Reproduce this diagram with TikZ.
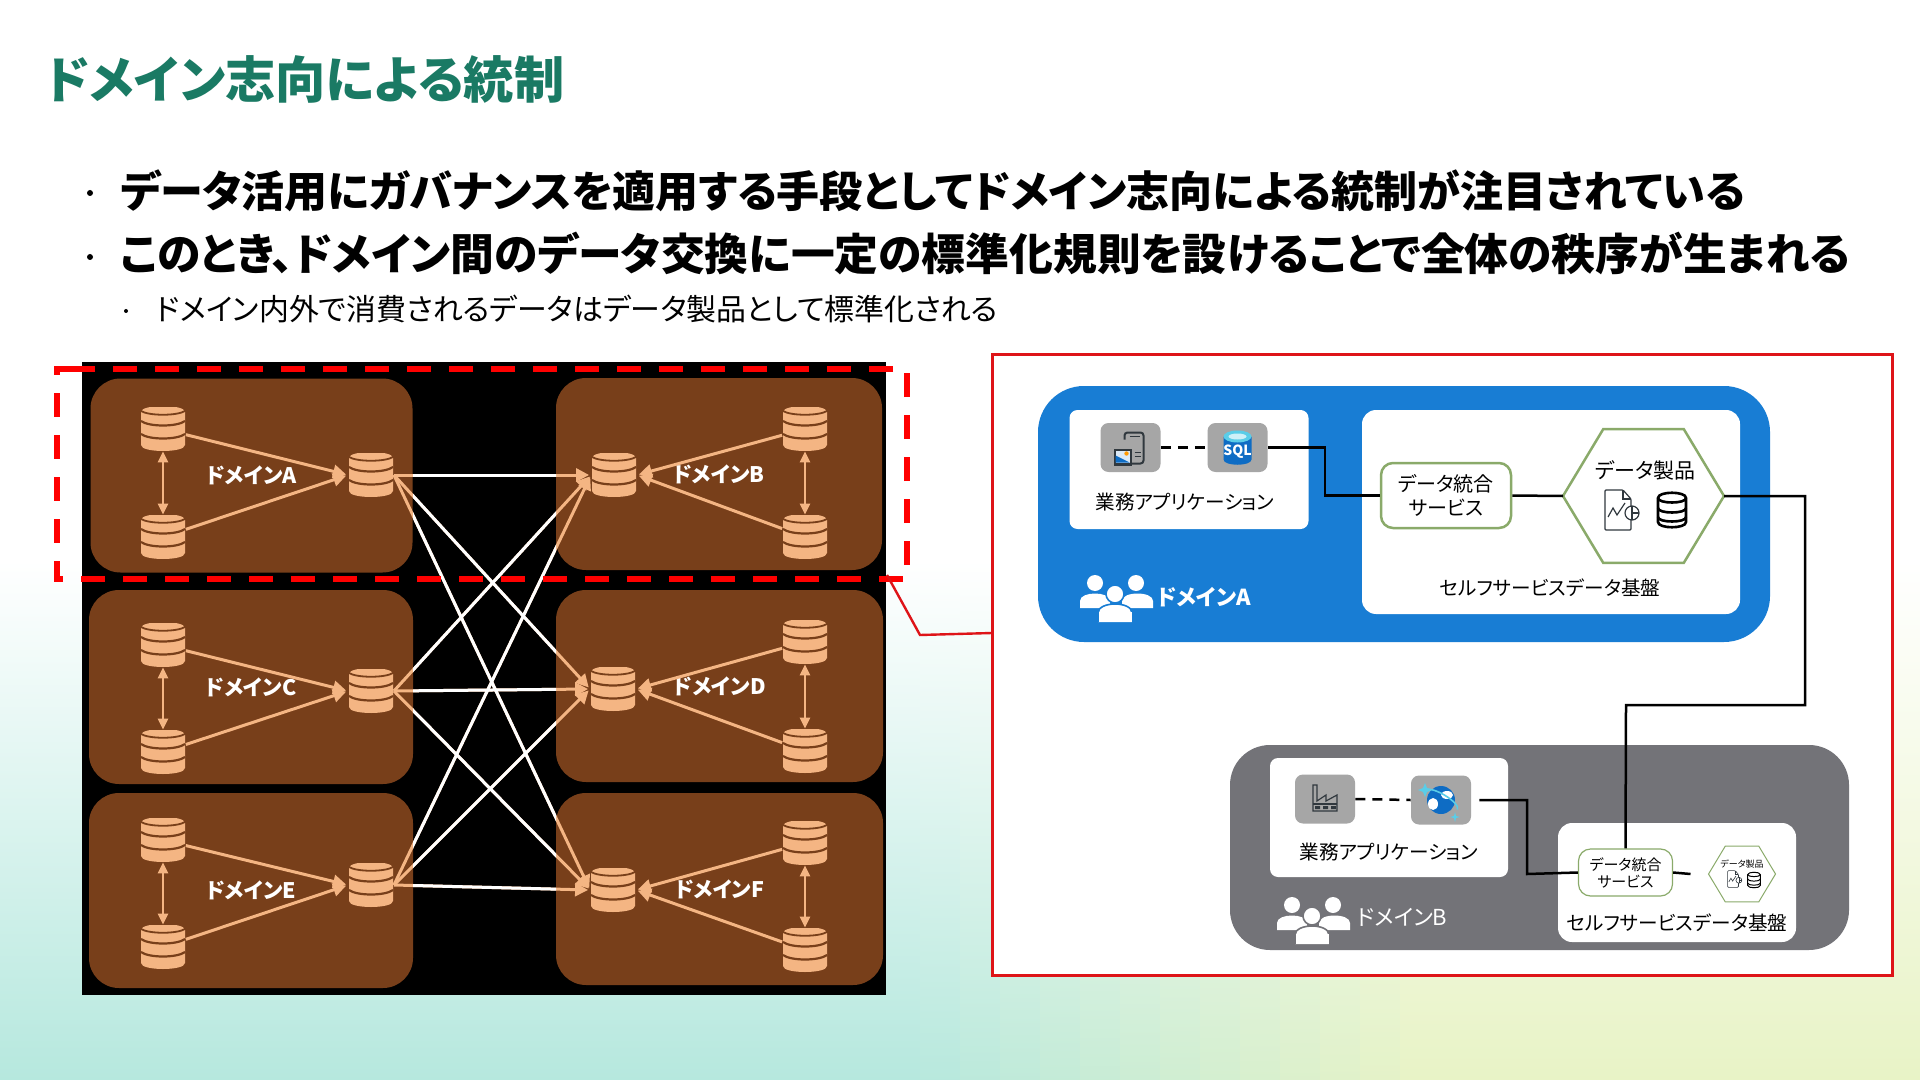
\documentclass[tikz,border=0pt]{standalone}
\usepackage{fontspec}
\setmainfont[RawFeature=+palt]{Noto Sans CJK JP}
\usetikzlibrary{arrows.meta,positioning,shapes.geometric}
\definecolor{titlegreen}{RGB}{ 26,122,100}
\definecolor{alertred}  {RGB}{255,  0,  0}
\definecolor{framered}  {RGB}{222, 20, 24}
\definecolor{meshbrown} {RGB}{120, 63, 26}
\definecolor{meshpeach} {RGB}{244,181,131}
\definecolor{domblue}   {RGB}{ 24,125,212}
\definecolor{domgrey}   {RGB}{115,115,120}
\definecolor{tilegrey}  {RGB}{166,166,166}
\definecolor{svcgreen}  {RGB}{138,170,106}
\definecolor{icondark}  {RGB}{ 48, 56, 62}
\definecolor{sqlblue}   {RGB}{ 14,108,196}
\definecolor{sqlcyan}   {RGB}{ 90,205,232}
\definecolor{bgteal}    {RGB}{182,232,222}
\definecolor{bglime}    {RGB}{232,243,198}

\begin{document}
\begin{tikzpicture}[
    x=0.5pt, y=-0.5pt,
    headline/.style={anchor=west, inner sep=0pt, text=titlegreen, font=\bfseries\fontsize{25.1pt}{30pt}\selectfont},
    bullet/.style={anchor=west, inner sep=0pt, font=\bfseries\fontsize{21.5pt}{25pt}\selectfont},
    subbullet/.style={anchor=west, inner sep=0pt, font=\fontsize{14.95pt}{18pt}\selectfont},
    bulletdot/.style={circle, fill=black, inner sep=0pt, minimum size=3pt},
    domainbox/.style={fill=meshbrown, rounded corners=15pt, text=white, font=\bfseries\fontsize{10.7pt}{14pt}\selectfont},
    dbicon/.style={inner sep=0pt, minimum width=22.5pt, minimum height=22pt, path picture={
        \begin{scope}[shift={(path picture bounding box.center)}]
            \fill[meshpeach] (-22,-17) .. controls (-22,-25) and (22,-25) .. (22,-17) -- (22,16) .. controls (22,24) and (-22,24) .. (-22,16) -- cycle;
            \draw[meshbrown, line width=0.9pt] (-22,-18) .. controls (-14,-13) and (14,-13) .. (22,-18);
            \draw[meshbrown, line width=1.1pt] (-22,-8) .. controls (-14,-2) and (14,-2) .. (22,-8);
            \draw[meshbrown, line width=1.1pt] (-22,5) .. controls (-14,11) and (14,11) .. (22,5);
        \end{scope}}},
    flow/.style={draw=meshpeach, line width=1.5pt, shorten >=1pt, -{Triangle[length=6.5pt,width=6.5pt]}},
    biflow/.style={draw=meshpeach, line width=1.2pt, {Triangle[length=5.5pt,width=5pt]}-{Triangle[length=5.5pt,width=5pt]}},
    xlink/.style={draw=white, line width=1.5pt},
    appbox/.style={fill=white, rounded corners=4pt},
    platbox/.style={fill=white, rounded corners=7pt},
    tile/.style={fill=tilegrey, rounded corners=4pt, minimum width=30pt, minimum height=24.5pt, inner sep=0pt},
    plain/.style={inner sep=0pt, font=\fontsize{9.8pt}{12pt}\selectfont},
    dombig/.style={inner sep=0pt, anchor=west, text=white, font=\bfseries\fontsize{11pt}{13pt}\selectfont},
    svcbox/.style={draw=svcgreen, fill=white, rounded corners=6pt, align=center, inner sep=0pt},
    hexshape/.style={draw=svcgreen, fill=white, regular polygon, regular polygon sides=6, inner sep=0pt, outer sep=0pt, yscale=0.96, transform shape},
    wire/.style={draw=black, line width=1.25pt},
    dashwire/.style={wire, dash pattern=on 5pt off 3.5pt},
    pics/appicon/.style={code={
        \draw[icondark, line width=1pt, rounded corners=1.5pt] (-6,-8) -- (-6,-15) -- (13,-15) -- (13,16) -- (1,16);
        \draw[icondark, line width=0.6pt] (-1,-11) -- (9,-11) (4,5) -- (10,5) (4,9) -- (10,9);
        \fill[icondark] (-17,1) rectangle (1,18);
        \fill[white!85!sqlblue] (-15,3) rectangle (-1,15);
        \fill[sqlblue] (-15,15) -- (-15,8) -- (-9,11) -- (-1,15) -- cycle;
        \fill[orange!80!yellow] (-4,6) circle (2.2);}},
    pics/sqlicon/.style={code={
        \fill[sqlblue] (-14,-11) -- (-14,12) .. controls (-14,19) and (14,19) .. (14,12) -- (14,-11) -- cycle;
        \fill[sqlcyan] (0,-11) ellipse (14 and 6);
        \fill[white!70!sqlcyan] (0,-11) ellipse (9 and 3);
        \node[text=white, inner sep=0pt, font=\bfseries\fontsize{7pt}{8pt}\selectfont] at (0,4) {SQL};}},
    pics/factoryicon/.style={code={
        \draw[icondark, line width=0.6pt, fill=tilegrey] (-12,12) -- (-12,-14) -- (-8,-14) -- (-8,2) -- (1,-4) -- (1,2) -- (12,-4) -- (12,12) -- cycle;
        \draw[icondark, line width=0.6pt] (-12,5) -- (12,5);
        \fill[icondark] (-10,7) rectangle (-5,10) (-2,7) rectangle (3,10) (6,7) rectangle (11,10);}},
    pics/cosmosicon/.style={code={
        \fill[sqlblue] (0,0) circle (14);
        \fill[white] (-8,4) ellipse (5 and 6) (6,-5) ellipse (6 and 4);
        \draw[sqlcyan, line width=0.8pt, rotate=-30] (-19,0) arc[start angle=180, end angle=360, x radius=19, y radius=6];
        \fill[sqlcyan] (-16,-17) -- (-14,-12) -- (-9,-10) -- (-14,-8) -- (-16,-3) -- (-18,-8) -- (-23,-10) -- (-18,-12) -- cycle;
        \fill[sqlcyan] (14,12) -- (15,16) -- (19,17) -- (15,18) -- (14,22) -- (13,18) -- (9,17) -- (13,16) -- cycle;}},
    pics/docicon/.style={code={
        \draw[icondark, pic actions, rounded corners=0.5pt] (-13,-20) -- (5,-20) -- (13,-11) -- (13,20) -- (-13,20) -- cycle;
        \draw[icondark, pic actions] (5,-20) -- (5,-11) -- (13,-11);
        \draw[icondark, pic actions] (-10,7) -- (-5,-2) -- (-1,5) -- (7,-7);
        \draw[icondark, pic actions, fill=white] (14,3) circle (7);
        \draw[icondark, pic actions] (14,-4) -- (14,10) (14,3) -- (21,3);}},
    pics/dbline/.style={code={
        \draw[black, pic actions, fill=white] (-14,-12) .. controls (-14,-19) and (14,-19) .. (14,-12) -- (14,12) .. controls (14,19) and (-14,19) .. (-14,12) -- cycle;
        \draw[black, pic actions] (-14,-12) .. controls (-14,-6) and (14,-6) .. (14,-12);
        \draw[black, pic actions] (-14,-2) .. controls (-14,4) and (14,4) .. (14,-2);
        \draw[black, pic actions] (-14,7) .. controls (-14,13) and (14,13) .. (14,7);}},
    pics/peopleicon/.style={code={
        \fill[white] (-21,-15) circle (8) (20,-15) circle (8);
        \fill[white] (-36,10) -- (-36,3) .. controls (-36,-7) and (-6,-7) .. (-6,3) -- (-6,10) -- cycle;
        \fill[white] (6,10) -- (6,3) .. controls (6,-7) and (37,-7) .. (37,3) -- (37,10) -- cycle;
        \draw[#1, fill=white, line width=0.8pt] (-1,-4) circle (9);
        \draw[#1, fill=white, line width=0.8pt] (-18,24) -- (-18,15) .. controls (-18,3) and (16,3) .. (16,15) -- (16,24);
        \fill[white] (-17.5,24) rectangle (15.5,14);}}
]
    \useasboundingbox (0,0) rectangle (1920,1080);
    % background, white above, teal to lime along the bottom
    \fill[white] (0,0) rectangle (1920,1080);
    \foreach \k in {0,...,48} {
        \pgfmathsetmacro{\xa}{40*\k}
        \pgfmathsetmacro{\mixp}{min(100,max(0,(\xa-900)/5))}
        \colorlet{stripc}{bglime!\mixp!bgteal}
        \fill[top color=white, bottom color=stripc, draw=none] (\xa,560) rectangle (\xa+41,1080);
    }

    % heading and bullets
    \node[headline] (title) at (45,79) {ドメイン志向による統制};
    \node[bulletdot] (dotone) at (90,193) {};
    \node[bullet] (lineone) at (120,191) {データ活用にガバナンスを適用する手段としてドメイン志向による統制が注目されている};
    \node[bulletdot] (dottwo) at (90,257) {};
    \node[bullet, font=\bfseries\fontsize{21.9pt}{25pt}\selectfont] (linetwo) at (120,254) {このとき、ドメイン間のデータ交換に一定の標準化規則を設けることで全体の秩序が生まれる};
    \node[bulletdot, minimum size=2pt] (dotsub) at (126,311) {};
    \node[subbullet] (linesub) at (156,309) {ドメイン内外で消費されるデータはデータ製品として標準化される};

    % left: mesh of domains
    \node[fill=black, minimum width=402pt, minimum height=316pt, inner sep=0pt] (mesh) at (484,678.5) {};
    \node[domainbox, minimum width=161pt, minimum height=97pt] (domA) at (251.5,475.5) {ドメインA};
    \node[domainbox, minimum width=163pt, minimum height=96pt] (domB) at (719,474) {ドメインB};
    \node[domainbox, minimum width=162pt, minimum height=97pt] (domC) at (251,687) {ドメインC};
    \node[domainbox, minimum width=163.5pt, minimum height=96pt] (domD) at (719.5,686) {ドメインD};
    \node[domainbox, minimum width=162pt, minimum height=97.5pt] (domE) at (251,890.5) {ドメインE};
    \node[domainbox, minimum width=163.5pt, minimum height=96pt] (domF) at (719.5,889) {ドメインF};

    \node[dbicon] (dbAtop) at (163,429) {};
    \node[dbicon] (dbAbot) at (163,537) {};
    \node[dbicon] (hubA) at (371,475) {};
    \node[dbicon] (dbBtop) at (805,429) {};
    \node[dbicon] (dbBbot) at (805,537) {};
    \node[dbicon] (hubB) at (614,475) {};
    \node[dbicon] (dbCtop) at (163,645) {};
    \node[dbicon] (dbCbot) at (163,752) {};
    \node[dbicon] (hubC) at (371,691) {};
    \node[dbicon] (dbDtop) at (805,642) {};
    \node[dbicon] (dbDbot) at (805,751) {};
    \node[dbicon] (hubD) at (613,689) {};
    \node[dbicon] (dbEtop) at (163,840) {};
    \node[dbicon] (dbEbot) at (163,947) {};
    \node[dbicon] (hubE) at (371,885) {};
    \node[dbicon] (dbFtop) at (805,843) {};
    \node[dbicon] (dbFbot) at (805,950) {};
    \node[dbicon] (hubF) at (613,890) {};

    \draw[flow] (dbAtop) -- (hubA.west);
    \draw[flow] (dbAbot) -- (hubA.west);
    \draw[biflow] (dbAtop) -- (dbAbot);
    \draw[flow] (dbBtop) -- (hubB.east);
    \draw[flow] (dbBbot) -- (hubB.east);
    \draw[biflow] (dbBtop) -- (dbBbot);
    \draw[flow] (dbCtop) -- (hubC.west);
    \draw[flow] (dbCbot) -- (hubC.west);
    \draw[biflow] (dbCtop) -- (dbCbot);
    \draw[flow] (dbDtop) -- (hubD.east);
    \draw[flow] (dbDbot) -- (hubD.east);
    \draw[biflow] (dbDtop) -- (dbDbot);
    \draw[flow] (dbEtop) -- (hubE.west);
    \draw[flow] (dbEbot) -- (hubE.west);
    \draw[biflow] (dbEtop) -- (dbEbot);
    \draw[flow] (dbFtop) -- (hubF.east);
    \draw[flow] (dbFbot) -- (hubF.east);
    \draw[biflow] (dbFtop) -- (dbFbot);

    % links between hubs, peach over the boxes
    \draw[flow] (hubA.east) -- (hubB.west);
    \draw[flow] (hubA.east) -- (hubD.west);
    \draw[flow] (hubA.east) -- (hubF.west);
    \draw[flow] (hubC.east) -- (hubB.west);
    \draw[flow] (hubC.east) -- (hubD.west);
    \draw[flow] (hubC.east) -- (hubF.west);
    \draw[flow] (hubE.east) -- (hubB.west);
    \draw[flow] (hubE.east) -- (hubD.west);
    \draw[flow] (hubE.east) -- (hubF.west);
    % white where they cross the black gap
    \begin{scope}
        \clip (413,363) rectangle (556,994);
        \draw[xlink] (hubA.east) -- (hubB.west);
        \draw[xlink] (hubA.east) -- (hubD.west);
        \draw[xlink] (hubA.east) -- (hubF.west);
        \draw[xlink] (hubC.east) -- (hubB.west);
        \draw[xlink] (hubC.east) -- (hubD.west);
        \draw[xlink] (hubC.east) -- (hubF.west);
        \draw[xlink] (hubE.east) -- (hubB.west);
        \draw[xlink] (hubE.east) -- (hubD.west);
        \draw[xlink] (hubE.east) -- (hubF.west);
    \end{scope}
    \draw[draw=alertred, line width=2.7pt, dash pattern=on 12pt off 9pt] (75,369) -- (57,369) -- (57,579) -- (907,579) -- (907,369) -- (75,369);

    % right: zoomed panel
    \node[draw=framered, fill=white, line width=1.5pt, minimum width=450pt, minimum height=310pt, inner sep=0pt] (panel) at (1442,665) {};
    \coordinate (leadstart) at (887,575);
    \coordinate (leadbend) at (920,635);
    \coordinate (leadend) at (992,633);
    \draw[draw=framered, line width=1.2pt] (leadstart) -- (leadbend) -- (leadend);

    % domain A
    \node[fill=domblue, rounded corners=23pt, minimum width=366pt, minimum height=128pt, inner sep=0pt] (blockA) at (1404,514) {};
    \node[appbox, minimum width=119.5pt, minimum height=59.5pt, inner sep=0pt] (appboxA) at (1189,469.5) {};
    \node[platbox, minimum width=189pt, minimum height=102pt, inner sep=0pt] (platA) at (1551,512) {};
    \node[tile] (appA) at (1130.5,447.5) {};
    \node[tile] (sqlA) at (1237.5,447.5) {};
    \pic at (appA) {appicon};
    \pic at (sqlA) {sqlicon};
    \node[plain] (appnameA) at (1185,502) {業務アプリケーション};
    \node[svcbox, line width=1.25pt, minimum width=65pt, minimum height=32.5pt, font=\fontsize{10pt}{12pt}\selectfont] (svcA) at (1446,495.5) {データ統合\\サービス};
    \node[hexshape, line width=1.25pt, minimum size=80.5pt] (hexA) at (1643.5,496) {};
    \node[plain, font=\fontsize{10.5pt}{12pt}\selectfont] (prodA) at (1645,470) {データ製品};
    \pic[line width=0.6pt] at (1618,510) {docicon};
    \pic[line width=1.3pt] at (1672,510) {dbline};
    \node[plain] (platnameA) at (1550,588) {セルフサービスデータ基盤};
    \pic at (1116,598) {peopleicon=domblue};
    \node[dombig] (nameA) [right=2pt of {(1153,597)}] {ドメインA};

    % domain B
    \node[fill=domgrey, rounded corners=20pt, minimum width=309.5pt, minimum height=102.5pt, inner sep=0pt] (blockB) at (1539.5,847.5) {};
    \node[appbox, minimum width=119pt, minimum height=59.5pt, inner sep=0pt] (appboxB) at (1389,817.5) {};
    \node[platbox, minimum width=119pt, minimum height=59.5pt, inner sep=0pt] (platB) at (1677,882.5) {};
    \node[tile] (plantB) at (1325,799) {};
    \node[tile] (cosmosB) at (1441,800) {};
    \pic at (plantB) {factoryicon};
    \pic at (cosmosB) {cosmosicon};
    \node[plain] (appnameB) at (1389,852) {業務アプリケーション};
    \node[svcbox, line width=0.6pt, minimum width=47pt, minimum height=23.5pt, font=\fontsize{7.5pt}{8.5pt}\selectfont] (svcB) at (1625.5,872.5) {データ統合\\サービス};
    \node[hexshape, line width=0.5pt, minimum size=33.5pt] (hexB) at (1742,874) {};
    \node[plain, font=\fontsize{4.5pt}{5pt}\selectfont] (prodB) at (1742,864) {データ製品};
    \pic[scale=0.42, line width=0.3pt] at (1733,879) {docicon};
    \pic[scale=0.45, line width=0.5pt] at (1754,880) {dbline};
    \node[plain] (platnameB) at (1677,923) {セルフサービスデータ基盤};
    \pic at (1313,920) {peopleicon=domgrey};
    \node[dombig, font=\fontsize{11pt}{13pt}\selectfont] (nameB) [right=4pt of {(1349,917)}] {ドメインB};

    % wiring
    \coordinate (elbowA) at (1325,495.5);
    \coordinate (elbowB) at (1527,874);
    \coordinate (riserR) at (1805,705);
    \coordinate (riserL) at (1626,705);
    \draw[dashwire] (appA) -- (sqlA);
    \draw[wire] (sqlA.east) -| (elbowA) -- (svcA.west);
    \draw[wire] (svcA.east) -- (hexA.west);
    \draw[wire] (hexA.east) -| (riserR) -- (riserL) -- (svcB.north);
    \draw[dashwire] (plantB.east) -- (cosmosB.west);
    \draw[wire] ([xshift=4]cosmosB.east) -| (elbowB) -- (svcB.west);
    \draw[wire] (svcB.east) -- ([xshift=-9]hexB.west);
\end{tikzpicture}
\end{document}
